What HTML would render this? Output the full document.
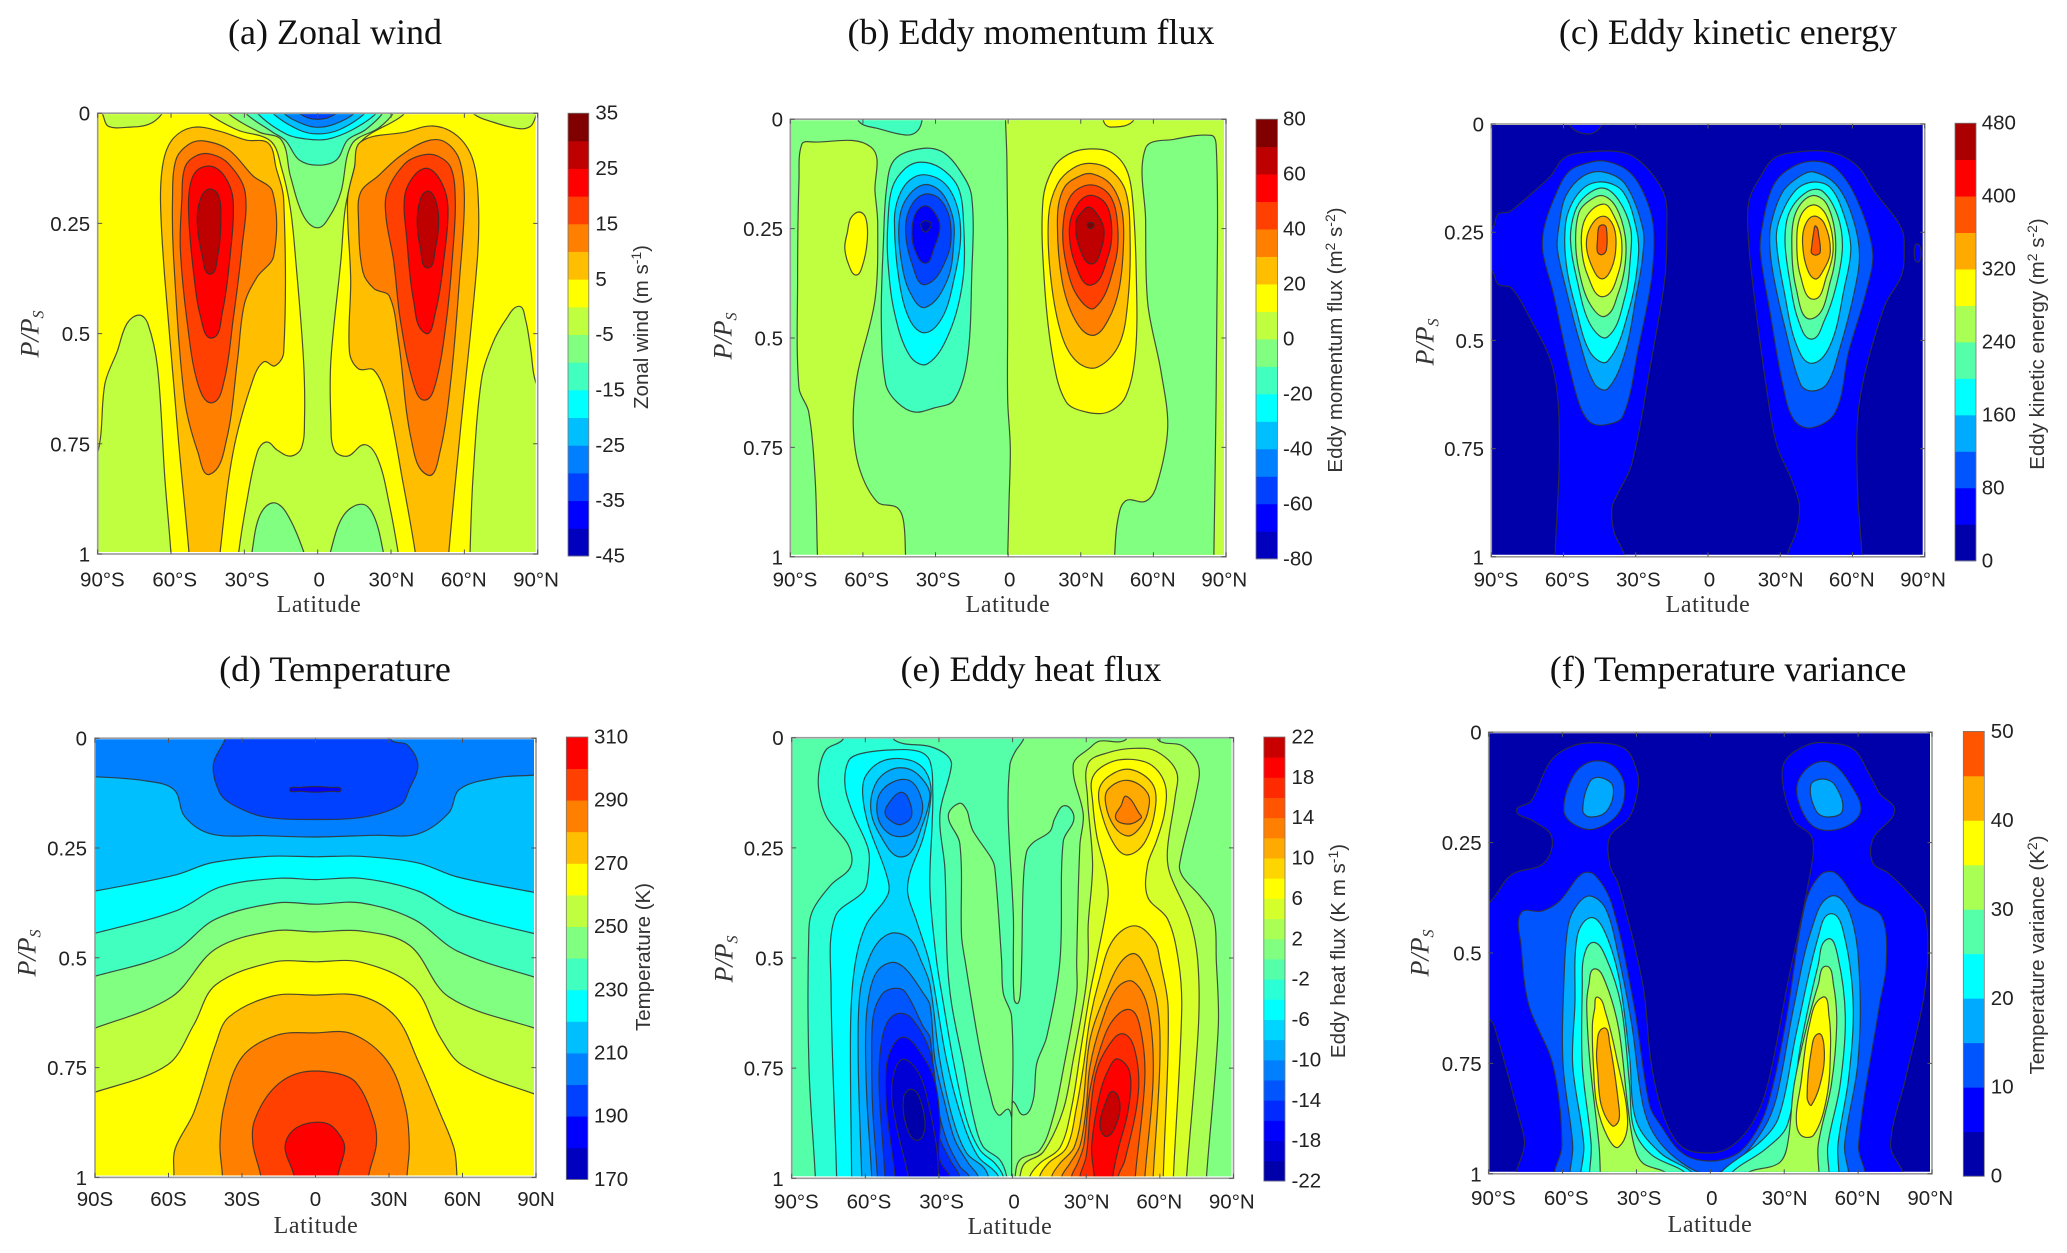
<!DOCTYPE html>
<html lang="en">
<head>
<meta charset="utf-8">
<title>Zonal mean climatology panels</title>
<style>
html,body{margin:0;padding:0;background:#fff;}
svg{display:block;}
.title{font-family:"Liberation Serif",serif;font-size:36px;text-anchor:middle;fill:#111;}
.tick{font-family:"Liberation Sans",sans-serif;font-size:20.5px;fill:#222;}
.xlab{font-family:"Liberation Serif",serif;font-size:24px;text-anchor:middle;fill:#333;letter-spacing:.6px;}
.ylab{font-family:"Liberation Serif",serif;font-size:26px;font-style:italic;text-anchor:middle;fill:#333;}
.cblab{font-family:"Liberation Sans",sans-serif;font-size:20.5px;text-anchor:middle;fill:#333;}
</style>
</head>
<body>
<svg id="figure" xmlns="http://www.w3.org/2000/svg" width="2067" height="1253" viewBox="0 0 2067 1253">
<rect width="2067" height="1253" fill="#fff"/>
<text class="title" x="335" y="44">(a) Zonal wind</text>
<text class="title" x="1031" y="44">(b) Eddy momentum flux</text>
<text class="title" x="1728" y="44">(c) Eddy kinetic energy</text>
<text class="title" x="335" y="681">(d) Temperature</text>
<text class="title" x="1031" y="681">(e) Eddy heat flux</text>
<text class="title" x="1728" y="681">(f) Temperature variance</text>

<text class="xlab" x="319" y="612">Latitude</text>
<text class="xlab" x="1008" y="612">Latitude</text>
<text class="xlab" x="1708" y="612">Latitude</text>
<text class="xlab" x="316" y="1233">Latitude</text>
<text class="xlab" x="1010" y="1234">Latitude</text>
<text class="xlab" x="1710" y="1232">Latitude</text>

<text class="ylab" transform="translate(38.5,334) rotate(-90)">P/P<tspan font-size="16" dy="5">S</tspan></text>
<text class="ylab" transform="translate(731.5,336) rotate(-90)">P/P<tspan font-size="16" dy="5">S</tspan></text>
<text class="ylab" transform="translate(1433.5,342) rotate(-90)">P/P<tspan font-size="16" dy="5">S</tspan></text>
<text class="ylab" transform="translate(35.5,953) rotate(-90)">P/P<tspan font-size="16" dy="5">S</tspan></text>
<text class="ylab" transform="translate(732.5,959) rotate(-90)">P/P<tspan font-size="16" dy="5">S</tspan></text>
<text class="ylab" transform="translate(1428.5,953) rotate(-90)">P/P<tspan font-size="16" dy="5">S</tspan></text>

<text class="cblab" transform="translate(648,327) rotate(-90)">Zonal wind (m s<tspan font-size="14" dy="-7">-1</tspan><tspan dy="7">)</tspan></text>
<text class="cblab" transform="translate(1342,340) rotate(-90)">Eddy momentum flux (m<tspan font-size="14" dy="-7">2</tspan><tspan dy="7"> s</tspan><tspan font-size="14" dy="-7">-2</tspan><tspan dy="7">)</tspan></text>
<text class="cblab" transform="translate(2044,344) rotate(-90)">Eddy kinetic energy (m<tspan font-size="14" dy="-7">2</tspan><tspan dy="7"> s</tspan><tspan font-size="14" dy="-7">-2</tspan><tspan dy="7">)</tspan></text>
<text class="cblab" transform="translate(650,957) rotate(-90)">Temperature (K)</text>
<text class="cblab" transform="translate(1345,951) rotate(-90)">Eddy heat flux (K m s<tspan font-size="14" dy="-7">-1</tspan><tspan dy="7">)</tspan></text>
<text class="cblab" transform="translate(2044,955) rotate(-90)">Temperature variance (K<tspan font-size="14" dy="-7">2</tspan><tspan dy="7">)</tspan></text>
</svg>
<script>
// ---------- shared axis values ----------
const latTicks=[-90,-60,-30,0,30,60,90];
const degLatLabels=['90°S','60°S','30°S','0','30°N','60°N','90°N'];
const plainLatLabels=['90S','60S','30S','0','30N','60N','90N'];
const pressureTicks=[0,0.25,0.5,0.75,1];
const pressureLabels=['0','0.25','0.5','0.75','1'];

// ---------- colour-bar tick values ----------
const zonalWindTicks=[35,25,15,5,-5,-15,-25,-35,-45];
const momentumTicks=[80,60,40,20,0,-20,-40,-60,-80];
const kineticTicks=[480,400,320,240,160,80,0];
const temperatureTicks=[310,290,270,250,230,210,190,170];
const heatFluxTicks=[22,18,14,10,6,2,-2,-6,-10,-14,-18,-22];
const varianceTicks=[50,40,30,20,10,0];

// ---------- palettes, bottom band first ----------
const pal16=['#0000BF','#0000FF','#0040FF','#0080FF','#00BFFF','#00FFFF','#40FFBF','#80FF80','#BFFF40','#FFFF00','#FFBF00','#FF8000','#FF4000','#FF0000','#BF0000','#800000'];
const pal12=['#0000AA','#0000FF','#0055FF','#00AAFF','#00FFFF','#55FFAA','#AAFF55','#FFFF00','#FFAA00','#FF5500','#FF0000','#AA0000'];
const pal14=['#0000BF','#0000FF','#0040FF','#0080FF','#00BFFF','#00FFFF','#40FFBF','#80FF80','#BFFF40','#FFFF00','#FFBF00','#FF8000','#FF4000','#FF0000'];
const pal22=['#0000AA','#0000D5','#0000FF','#002AFF','#0055FF','#0080FF','#00AAFF','#00D5FF','#00FFFF','#2AFFD5','#55FFAA','#80FF80','#AAFF55','#D5FF2A','#FFFF00','#FFD500','#FFAA00','#FF8000','#FF5500','#FF2A00','#FF0000','#C80000'];
const pal10=['#0000AA','#0000FF','#0055FF','#00AAFF','#00FFFF','#55FFAA','#AAFF55','#FFFF00','#FFAA00','#FF5500'];

// ---------- contour regions: lower band value + [latitude, P/Ps] outline ----------
const zonalWindRegions=[
{level:-5,pts:[[-90,.77],[-87,.613],[-82,.54],[-78,.477],[-73,.458],[-69.5,.477],[-65.5,.578],[-62.5,.83],[-60,1],[-60,1.03],[-96,1.03],[-96,.8]]},
{level:-5,pts:[[-88,-.02],[-87.5,.01],[-85.5,.03],[-78,.032],[-69,.025],[-63.5,0],[-63,-.02]]},
{level:-5,pts:[[63.5,-.02],[63.5,0],[71.6,.02],[82.4,.035],[87,.03],[89,.01],[90,-.02]]},
{level:-5,pts:[[62.3,1.03],[62.3,1],[63.5,.83],[67,.604],[71.6,.522],[77,.468],[82.4,.438],[85,.468],[87,.531],[89.5,.615],[96,.66],[96,1.03]]},
{level:-5,pts:[[-46,-.02],[-44.8,0],[-32.8,.038],[-19.3,.063],[-14.8,.124],[-11.2,.215],[-9,.333],[-5.8,.56],[-5.4,.696],[-6.7,.76],[-11.2,.778],[-16.6,.764],[-21,.746],[-24.7,.769],[-29.2,.887],[-32.4,1],[-32.4,1.03],[33.5,1.03],[33,1],[29.3,.887],[24.8,.787],[19.4,.752],[12.2,.778],[6.8,.764],[5.4,.696],[5.4,.56],[9.5,.333],[11.3,.215],[15,.124],[18,.063],[34.7,.005],[36,-.02]]},
{level:-10,pts:[[-37.5,-.02],[-36.7,0],[-23.8,.043],[-14.8,.061],[-11.2,.142],[-5.8,.233],[0,.26],[5,.233],[9.5,.179],[14,.07],[24.8,.034],[31,0],[32,-.02]]},
{level:-10,pts:[[-27,1],[-23.8,.914],[-18.4,.884],[-13,.905],[-5.4,1],[-5,1.03],[-27.5,1.03]]},
{level:-10,pts:[[5,1],[10.4,.914],[18,.887],[23,.914],[27,1],[27.5,1.03],[4.5,1.03]]},
{level:-15,pts:[[-30,-.02],[-29.5,0],[-18.4,.043],[-13,.063],[-7.6,.106],[0,.118],[7.7,.106],[12.2,.061],[19.4,.038],[26.6,0],[27,-.02]]},
{level:-20,pts:[[-25,-.02],[-24.7,0],[-13,.047],[-4,.059],[4,.059],[14,.038],[24,0],[24.5,-.02]]},
{level:-25,pts:[[-19,-.02],[-18.4,0],[-7.6,.038],[0,.047],[8.6,.038],[19.4,0],[20,-.02]]},
{level:-30,pts:[[-14.5,-.02],[-13.9,0],[-5.8,.025],[0,.032],[6.8,.025],[15,0],[15.5,-.02]]},
{level:-35,pts:[[-8,-.02],[-7.6,0],[0,.014],[7.7,0],[8,-.02]]},
{level:5,pts:[[-52.6,1.03],[-52.6,1],[-57,.741],[-62.5,.378],[-64.3,.197],[-63,.106],[-58.9,.056],[-50.8,.032],[-40,.041],[-29.2,.061],[-20.2,.068],[-17,.124],[-13.9,.197],[-13.9,.542],[-17.5,.573],[-22,.564],[-26.5,.605],[-34.6,.769],[-40,1],[-40,1.03]]},
{level:5,pts:[[40,1.03],[40,1],[34.7,.832],[28.4,.651],[23,.583],[16.7,.58],[13,.542],[13.5,.378],[12.2,.197],[15,.124],[17.6,.065],[35.6,.043],[47.3,.029],[57.2,.052],[63.5,.106],[65.7,.197],[65.3,.333],[58,.741],[53.6,1],[53.6,1.03]]},
{level:10,pts:[[-59.4,.197],[-58,.106],[-52.6,.07],[-46.3,.063],[-36.4,.083],[-26.5,.142],[-18.4,.179],[-18,.324],[-24.7,.371],[-30,.433],[-32.8,.56],[-37.3,.741],[-44,.819],[-49,.769],[-54.4,.651],[-58.9,.333]]},
{level:10,pts:[[60,.197],[58,.106],[52,.065],[44.6,.063],[33.8,.097],[24.8,.142],[17.6,.179],[16.7,.242],[18.5,.36],[23,.398],[29.3,.415],[33,.515],[38.3,.741],[45,.821],[50,.769],[54.5,.605],[58,.378]]},
{level:15,pts:[[-55.6,.197],[-54.4,.124],[-49.9,.097],[-43.6,.093],[-36.4,.115],[-29.7,.179],[-31,.306],[-34.6,.469],[-38.2,.605],[-43.2,.657],[-49,.614],[-53.5,.469],[-56.2,.306]]},
{level:15,pts:[[56.3,.197],[54.5,.124],[49,.097],[42.8,.095],[35.6,.115],[28.4,.179],[28,.238],[31,.333],[33.8,.469],[39.2,.614],[43.7,.651],[48.2,.614],[52.7,.469],[55.4,.306]]},
{level:20,pts:[[-52.6,.179],[-49.9,.133],[-43.9,.12],[-38.2,.142],[-34.6,.197],[-36,.333],[-39,.451],[-43.2,.51],[-48,.46],[-50.8,.36],[-52.6,.251]]},
{level:20,pts:[[53.3,.215],[51,.161],[45.5,.126],[40,.138],[35.6,.188],[36.5,.288],[39.2,.424],[44,.499],[48.2,.451],[51.8,.324]]},
{level:25,pts:[[-49.3,.242],[-47.5,.188],[-44,.172],[-40.5,.188],[-39.6,.242],[-40.9,.324],[-44,.365],[-47.2,.324]]},
{level:25,pts:[[40.7,.242],[42.5,.188],[45.5,.177],[48.2,.197],[49.5,.242],[48.2,.306],[45,.351],[42,.306]]}
];

const momentumRegions=[
{level:0,pts:[[-85.2,.057],[-80.6,.052],[-56.6,.064],[-55,.166],[-53.9,.24],[-55,.413],[-62.4,.587],[-64,.697],[-61.5,.797],[-54,.875],[-46,.887],[-43.3,.916],[-42.4,.994],[-42.4,1.03],[-78.5,1.03],[-78.8,.994],[-79.7,.824],[-82.4,.669],[-86.4,.614],[-87,.367],[-86.4,.139]]},
{level:0,pts:[[-1.1,-.03],[-1.1,0],[-.5,.093],[-.2,.276],[-.2,.459],[-.2,.642],[.9,.751],[.4,.87],[-.2,1],[-.2,1.03],[96,1.03],[96,-.03]]},
{level:-10,pts:[[56.8,.066],[68.6,.046],[84,.037],[85.9,.057],[86.5,.276],[85.9,.642],[85,.994],[85,1.03],[44,1.03],[44,.994],[45.3,.916],[48.6,.872],[56.8,.873],[61.3,.838],[65.9,.706],[63.2,.578],[57.7,.422],[56.8,.23]]},
{level:-20,pts:[[-61.5,-.03],[-61.5,.006],[-53.3,.022],[-42.4,.036],[-37.9,.029],[-35.7,.006],[-35.7,-.03]]},
{level:10,pts:[[39.5,-.03],[39.5,.006],[42.2,.018],[51.3,.006],[51.3,-.03]]},
{level:10,pts:[[-66.4,.258],[-65,.226],[-61.5,.212],[-58.8,.226],[-58.2,.276],[-60.2,.335],[-62.8,.356],[-65.7,.335],[-67.5,.294]]},
{level:-20,pts:[[-50.2,.157],[-47,.093],[-36.9,.068],[-27.8,.073],[-20.6,.112],[-15.1,.176],[-15.1,.367],[-16.9,.55],[-22.4,.642],[-30.6,.66],[-38.8,.669],[-46,.646],[-50.6,.605],[-52.4,.459],[-51.5,.276]]},
{level:-30,pts:[[-49.7,.239],[-47.9,.157],[-42.4,.112],[-36,.098],[-27.8,.112],[-20.6,.157],[-18.4,.239],[-18.7,.367],[-24.2,.486],[-33.3,.559],[-40.6,.541],[-47,.441],[-49.7,.321]]},
{level:-40,pts:[[-47,.23],[-45.1,.176],[-40.6,.139],[-34.2,.127],[-26,.148],[-20.9,.203],[-19.7,.276],[-22.4,.367],[-26.9,.45],[-34.2,.488],[-40.6,.459],[-45.1,.367]]},
{level:-50,pts:[[-45.1,.239],[-42.4,.185],[-35.1,.15],[-27.8,.166],[-23,.221],[-22.4,.276],[-25.1,.367],[-34.2,.43],[-40.6,.395],[-44.2,.322]]},
{level:-60,pts:[[-42.4,.249],[-39.7,.194],[-34.2,.171],[-27.8,.185],[-23.8,.239],[-25.1,.313],[-34.2,.378],[-39.7,.331]]},
{level:-70,pts:[[-39.7,.249],[-37.9,.212],[-34.2,.198],[-30.6,.212],[-28.2,.244],[-30.6,.294],[-34.2,.329],[-38.8,.294]]},
{level:-80,pts:[[-36,.239],[-34.2,.232],[-31.8,.239],[-33.3,.256],[-35,.256]]},
{level:10,pts:[[14.4,.185],[18.6,.112],[24.9,.08],[33.1,.068],[42.2,.075],[48.6,.112],[51.3,.176],[53,.367],[52.6,.532],[48.6,.633],[41.3,.669],[32.2,.669],[24,.646],[18.6,.55],[14.9,.367]]},
{level:20,pts:[[16.7,.221],[20.4,.148],[26.8,.112],[34,.101],[42.2,.116],[48.6,.166],[50.4,.276],[49.5,.413],[45.9,.514],[36.8,.567],[28.6,.555],[22.2,.495],[17.7,.367]]},
{level:30,pts:[[20.4,.221],[23.1,.157],[29.5,.13],[34.9,.125],[42.2,.148],[46.8,.203],[47.7,.276],[45.9,.386],[41.3,.459],[34.9,.494],[27.7,.459],[22.2,.367]]},
{level:40,pts:[[22.6,.249],[25.8,.176],[34,.15],[42.2,.176],[45.3,.249],[44,.331],[35.9,.431],[28.6,.404],[24,.331]]},
{level:50,pts:[[25.3,.249],[28.6,.194],[34,.174],[40.4,.194],[42.8,.249],[41.3,.313],[34.4,.379],[27.7,.331]]},
{level:60,pts:[[28,.235],[31.3,.207],[33.7,.201],[36.8,.217],[39.5,.249],[38.6,.294],[34.4,.331],[29.5,.294]]},
{level:70,pts:[[32.6,.241],[34,.236],[35.5,.241],[34,.25]]}
];

const kineticRegions=[
{level:40,pts:[[-96,.26],[-89.4,.24],[-87.2,.208],[-82.6,.203],[-74.4,.166],[-65.3,.12],[-59.9,.079],[-50.8,.065],[-34.4,.067],[-25.3,.102],[-18,.166],[-17.1,.25],[-18,.36],[-23.5,.545],[-31.7,.786],[-38,.86],[-39.9,.887],[-39,.943],[-34.8,.994],[-34.8,1.03],[-63.7,1.03],[-63.5,.994],[-61.7,.73],[-64.4,.564],[-74.4,.444],[-81.7,.379],[-87.2,.37],[-89.4,.342],[-96,.32]]},
{level:40,pts:[[-57.1,-.03],[-57.1,.005],[-49.9,.023],[-44.4,.005],[-44.4,-.03]]},
{level:40,pts:[[17.1,.176],[22,.12],[27.5,.079],[36.6,.065],[51,.065],[62,.097],[69.3,.157],[80.3,.24],[81.5,.296],[80.3,.351],[73,.425],[63,.638],[62,.823],[63.9,.994],[63.9,1.03],[33,1.03],[33,.994],[36.6,.943],[38,.883],[34.8,.823],[28.4,.739],[23.8,.591],[18.4,.36],[16.6,.25]]},
{level:40,pts:[[85.7,.296],[87,.277],[88.5,.3],[87,.319]]},
{level:80,pts:[[-68.6,.296],[-68.1,.24],[-63.5,.166],[-58,.111],[-50.8,.091],[-42.6,.086],[-32.6,.111],[-26.2,.166],[-22.6,.24],[-23.5,.36],[-28.9,.518],[-35.3,.675],[-42.6,.695],[-49,.689],[-53.5,.647],[-59,.527],[-64.4,.388]]},
{level:120,pts:[[-62.6,.287],[-62,.24],[-59,.166],[-51.7,.12],[-43.5,.111],[-34.4,.139],[-27.1,.24],[-27.1,.305],[-29.8,.397],[-34.4,.527],[-41.7,.612],[-47.1,.601],[-53.5,.499],[-59.9,.36]]},
{level:160,pts:[[-59.5,.268],[-58,.203],[-51.7,.148],[-43.5,.134],[-35.3,.157],[-29.8,.24],[-28.9,.305],[-32.6,.425],[-41.7,.548],[-49,.527],[-55.3,.416],[-58.4,.342]]},
{level:200,pts:[[-57.1,.268],[-55.3,.203],[-50.8,.166],[-43.5,.148],[-37.1,.176],[-32.2,.24],[-32.2,.305],[-34.4,.397],[-41.7,.492],[-49,.462],[-54.4,.36]]},
{level:240,pts:[[-55,.268],[-53.5,.203],[-49,.176],[-43.5,.166],[-38,.194],[-34.4,.259],[-34.4,.323],[-37.1,.388],[-42.6,.444],[-49,.416],[-53.5,.342]]},
{level:280,pts:[[-52.6,.277],[-50.8,.217],[-43.5,.185],[-39,.213],[-35.9,.268],[-37.1,.342],[-43.5,.399],[-49.9,.351]]},
{level:320,pts:[[-50.4,.287],[-49,.24],[-43.5,.213],[-39,.24],[-38.4,.296],[-40.8,.342],[-44,.358],[-47.1,.342]]},
{level:360,pts:[[-45.9,.268],[-45.3,.238],[-43.5,.233],[-42.2,.24],[-42.2,.291],[-44,.302],[-45.9,.296]]},
{level:80,pts:[[21.7,.296],[22.4,.24],[26.6,.148],[33,.106],[43,.086],[53,.102],[62,.176],[68.4,.296],[65.7,.388],[58.4,.527],[53,.665],[43,.702],[35.7,.684],[31,.601],[25.7,.434]]},
{level:120,pts:[[25.7,.287],[26.2,.231],[31,.157],[38.4,.12],[43.9,.111],[53,.139],[59.3,.203],[62.9,.296],[61.1,.379],[54.8,.518],[49.3,.601],[43,.617],[38.4,.601],[32,.471],[27.5,.36]]},
{level:160,pts:[[28.4,.268],[30.2,.213],[36.6,.152],[43.9,.134],[51,.148],[56.6,.213],[59.3,.287],[56.6,.379],[51,.508],[43,.553],[36.6,.508],[32,.397]]},
{level:200,pts:[[32,.268],[33.9,.203],[41.1,.157],[47.5,.155],[53.9,.213],[55.8,.287],[53,.379],[48.4,.453],[43,.497],[37.5,.453],[33.9,.36]]},
{level:240,pts:[[34.8,.268],[36.6,.203],[43,.166],[49.3,.185],[53,.268],[51,.36],[43,.45],[36.6,.379]]},
{level:280,pts:[[36.9,.277],[38.4,.213],[43.9,.187],[49.3,.213],[52,.287],[49.3,.351],[43.9,.405],[38.4,.351]]},
{level:320,pts:[[39.3,.277],[40.2,.236],[43.9,.213],[48.4,.231],[50.8,.296],[47.5,.342],[44.4,.358],[41.1,.333]]},
{level:360,pts:[[43,.287],[43.9,.25],[44.8,.236],[46,.259],[46.6,.296],[44.8,.303],[43,.298]]}
];

const temperatureRegions=[
{level:190,pts:[[-35,-.03],[-37.2,.006],[-41.7,.061],[-39,.125],[-33.6,.152],[-21,.179],[0,.185],[20.3,.179],[34.7,.152],[38.3,.116],[41.8,.061],[37.4,.015],[31.1,.005],[30,-.03]]},
{level:180,pts:[[-10.6,.117],[-6,.112],[0,.11],[6,.112],[10.4,.117],[6,.121],[0,.123],[-6,.121]]},
{level:210,pts:[[-96,.09],[-90,.088],[-69.5,.097],[-57.8,.117],[-53.3,.179],[-42.6,.218],[-21,.222],[0,.225],[23.9,.221],[41.8,.218],[54.4,.17],[58.9,.116],[74.2,.09],[89.4,.084],[96,.08],[96,1.03],[-96,1.03]]},
{level:220,pts:[[-96,.35],[-90,.348],[-56.9,.311],[-42.6,.284],[-19.2,.269],[0,.27],[18.5,.269],[41.8,.284],[58,.316],[89.4,.351],[96,.355],[96,1.03],[-96,1.03]]},
{level:230,pts:[[-96,.45],[-90,.444],[-56.9,.393],[-39,.339],[-15.6,.319],[0,.322],[18.5,.319],[41.8,.348],[58,.398],[89.4,.445],[96,.45],[96,1.03],[-96,1.03]]},
{level:240,pts:[[-96,.548],[-90,.542],[-58.7,.489],[-40.8,.412],[-15.6,.375],[0,.378],[18.5,.375],[40,.412],[58,.485],[89.4,.544],[96,.55],[96,1.03],[-96,1.03]]},
{level:250,pts:[[-96,.665],[-90,.66],[-58.7,.589],[-40.8,.48],[-17.4,.439],[0,.441],[18.5,.439],[38.3,.471],[54.4,.589],[89.4,.66],[96,.665],[96,1.03],[-96,1.03]]},
{level:260,pts:[[-96,.81],[-90,.806],[-60.5,.744],[-49.7,.653],[-40.8,.562],[-17.4,.51],[0,.509],[18.5,.51],[40,.566],[50.8,.68],[59.8,.744],[89.4,.81],[96,.815],[96,1.03],[-96,1.03]]},
{level:270,pts:[[-57.8,1.03],[-57.8,.995],[-57.3,.935],[-49.7,.853],[-40.8,.698],[-35.4,.635],[-17.4,.587],[0,.585],[18.5,.587],[32.9,.635],[41.8,.734],[50.8,.853],[56.6,.935],[57.7,.995],[57.7,1.03]]},
{level:280,pts:[[-38,1.03],[-38,.995],[-39,.926],[-37.2,.835],[-30,.726],[-15.6,.676],[0,.671],[14.9,.673],[29.3,.735],[36.5,.835],[38.3,.926],[37.4,.995],[37.4,1.03]]},
{level:290,pts:[[-22.4,1.03],[-22.4,.995],[-25.5,.926],[-25,.872],[-17.4,.799],[-6.6,.762],[7.7,.762],[16.7,.785],[23.9,.872],[24.8,.926],[21.7,.995],[21.7,1.03]]},
{level:300,pts:[[-8.8,1.03],[-8.8,.995],[-12.4,.935],[-10.2,.899],[-4,.878],[5,.878],[10.4,.908],[11.9,.935],[9.2,.995],[9.2,1.03]]}
];

const heatFluxRegions=[
{level:0,pts:[[6.4,-.03],[4.3,.005],[1,.032],[-1.1,.062],[-1.8,.175],[.3,.402],[.3,.505],[.5,.58],[1.6,.603],[3,.588],[3.7,.505],[4.3,.334],[5.7,.259],[8.4,.238],[15.2,.213],[17.2,.183],[21.3,.154],[25,.183],[20.6,.236],[19.3,.505],[13.9,.679],[9.8,.74],[8.4,.822],[4.6,.856],[.3,.826],[-.3,.837],[-.4,.996],[-.4,1.03],[96,1.03],[96,-.03]]},
{level:0,pts:[[-21.7,.149],[-26.2,.178],[-21.5,.24],[-20.8,.448],[-19.4,.505],[-13.3,.709],[-9.2,.807],[-5.8,.856],[-1.8,.843],[-.4,.86],[-.4,.633],[-3.8,.58],[-4.5,.505],[-7.2,.297],[-8.6,.274],[-16,.213],[-17.4,.191],[-18.7,.164]]},
{level:-4,pts:[[-69.2,-.03],[-69.2,.004],[-75.8,.026],[-78.5,.063],[-79,.117],[-75.8,.18],[-66.9,.244],[-66,.293],[-74,.334],[-81.2,.389],[-83,.434],[-83,.742],[-80.4,.996],[-80.4,1.03],[-2.4,1.03],[-2.4,.996],[-5.2,.958],[-12,.928],[-16,.86],[-20.1,.739],[-24.9,.603],[-26.6,.505],[-27.6,.297],[-29.6,.175],[-24.9,.062],[-26.9,.039],[-33.7,.02],[-48,.006],[-48,-.03]]},
{level:-6,pts:[[-66.9,.053],[-68.3,.108],[-65.1,.171],[-58.8,.253],[-58.8,.307],[-60.6,.348],[-72.3,.407],[-74,.561],[-71.7,.996],[-71.7,1.03],[-3.8,1.03],[-3.8,.996],[-7.2,.966],[-13.3,.936],[-18.7,.868],[-24.2,.731],[-28.2,.603],[-31,.505],[-33.7,.343],[-32.8,.198],[-32.5,.126],[-33.7,.053],[-38.2,.031],[-50.7,.028],[-62.4,.037]]},
{level:-8,pts:[[-61.1,.126],[-59.7,.085],[-52.5,.052],[-41.8,.051],[-35.5,.076],[-33.2,.126],[-36.4,.226],[-41.8,.307],[-42.7,.354],[-39.1,.416],[-33.7,.515],[-26.9,.732],[-20.1,.875],[-14,.951],[-7.9,.981],[-5.8,.996],[-5.8,1.03],[-65.6,1.03],[-65.6,.996],[-66,.651],[-64.2,.515],[-59.7,.425],[-50.7,.354],[-51.6,.307],[-58.8,.198]]},
{level:-10,pts:[[-48.4,.443],[-41.8,.457],[-37.3,.506],[-33.7,.56],[-29.6,.732],[-24.2,.868],[-18.7,.943],[-12,.974],[-9.9,.996],[-9.9,1.03],[-61.5,1.03],[-61.5,.996],[-62.9,.732],[-62.2,.58],[-58.8,.505],[-54.3,.461]]},
{level:-12,pts:[[-48.6,.51],[-43.2,.527],[-36.4,.58],[-33.7,.606],[-31.6,.732],[-27.6,.83],[-23.5,.913],[-18,.966],[-14,.996],[-14,1.03],[-57.4,1.03],[-57.4,.996],[-59.5,.807],[-59.8,.656],[-58.1,.573],[-54.7,.527]]},
{level:-14,pts:[[-48.6,.569],[-43.9,.576],[-36.4,.656],[-33.7,.68],[-31,.822],[-26.9,.913],[-21.5,.973],[-17.7,.996],[-17.7,1.03],[-55.1,1.03],[-55.1,.996],[-57,.845],[-57.4,.732],[-56.8,.633],[-53.4,.584]]},
{level:-16,pts:[[-46.6,.626],[-41.1,.637],[-33.7,.712],[-31,.81],[-30.3,.898],[-25.5,.958],[-21.5,.996],[-21.5,1.03],[-52,1.03],[-52,.996],[-54.3,.807],[-54,.716],[-51.3,.648]]},
{level:-18,pts:[[-45.2,.68],[-40.5,.693],[-32.3,.769],[-29.6,.867],[-29.6,.958],[-25.5,.996],[-25.5,1.03],[-47.9,1.03],[-47.9,.996],[-51.3,.845],[-51.6,.754],[-49.3,.705]]},
{level:-20,pts:[[-43.9,.73],[-37.8,.766],[-33.7,.845],[-31,.928],[-30.2,.996],[-30.2,1.03],[-42.5,1.03],[-42.5,.996],[-47.3,.883],[-49.3,.807],[-47.5,.747]]},
{level:-22,pts:[[-41.8,.798],[-44.5,.819],[-43.2,.883],[-38.8,.914],[-35.7,.879],[-38.4,.811]]},
{level:-10,pts:[[-57.6,.171],[-56.1,.108],[-49.8,.073],[-41.8,.072],[-35.5,.103],[-33.7,.135],[-37.3,.207],[-41.8,.262],[-47.2,.269],[-52.5,.235]]},
{level:-12,pts:[[-55.2,.171],[-54,.126],[-47.2,.097],[-40.9,.101],[-36.9,.144],[-37.3,.18],[-40.9,.216],[-47.2,.224],[-52.5,.207]]},
{level:-14,pts:[[-52,.171],[-49.8,.144],[-45.7,.124],[-42.7,.135],[-41.2,.178],[-45.4,.197],[-49,.191]]},
{level:2,pts:[[46,-.03],[59,-.03],[59.5,.006],[69.4,.019],[75.7,.063],[74.8,.126],[68,.289],[69.4,.316],[76.6,.361],[81.9,.407],[83,.506],[83.8,.656],[79,.996],[79,1.03],[1,1.03],[1,.996],[3,.958],[11.1,.936],[16.6,.86],[20.6,.754],[26.1,.58],[26.1,.505],[27.4,.244],[28.8,.175],[24.7,.062],[31.5,.023],[35.3,.008],[46,.005]]},
{level:4,pts:[[49.7,.024],[58.6,.031],[66.7,.076],[66.2,.135],[63.1,.253],[64,.307],[72.1,.411],[75.4,.505],[75.7,.656],[70.9,.996],[70.9,1.03],[3,1.03],[3,.996],[5,.966],[12.5,.94],[20.6,.845],[24.7,.731],[29.5,.58],[30.8,.505],[30.8,.425],[32.6,.289],[30.5,.135],[30.8,.058],[38.9,.034]]},
{level:6,pts:[[47.9,.049],[56.8,.063],[62.2,.108],[61.9,.171],[58.6,.235],[55,.289],[55,.361],[63.1,.411],[67.5,.504],[68.9,.618],[65.5,.996],[65.5,1.03],[7,1.03],[7,.996],[11.1,.966],[19.3,.93],[24,.84],[28,.7],[31.5,.58],[34.4,.5],[38.9,.361],[38,.307],[34.4,.226],[32.6,.144],[32.6,.09],[38.9,.058]]},
{level:8,pts:[[49.7,.427],[57.7,.461],[60,.504],[63.4,.618],[61.4,.996],[61.4,1.03],[11,1.03],[11,.996],[14.5,.966],[22,.93],[26,.84],[29,.74],[31.5,.64],[35.3,.55],[40.7,.461]]},
{level:8,pts:[[47.9,.072],[56.8,.103],[58.3,.153],[54.1,.235],[47,.266],[41.6,.244],[36.2,.171],[35.3,.117],[39.8,.085]]},
{level:10,pts:[[48.8,.49],[52.6,.505],[58.7,.595],[60,.732],[57.3,.996],[57.3,1.03],[15.9,1.03],[15.9,.996],[19.3,.966],[25,.93],[28.5,.84],[31.5,.686],[38,.579],[43.4,.515]]},
{level:10,pts:[[47,.097],[55,.126],[55,.171],[51.5,.207],[47,.223],[41.6,.203],[38,.153],[38.9,.117]]},
{level:12,pts:[[49.2,.554],[55.3,.618],[57.3,.769],[53.9,.996],[53.9,1.03],[20,1.03],[20,.996],[23.4,.966],[27.5,.925],[30,.84],[31.5,.747],[36,.65],[42.4,.569]]},
{level:12,pts:[[46.4,.133],[51.5,.171],[52.4,.182],[47,.196],[42,.183],[44.3,.153]]},
{level:14,pts:[[47.8,.617],[51.9,.656],[53.9,.769],[50,.996],[50,1.03],[24,1.03],[24,.996],[26.5,.966],[29,.925],[31.5,.8],[36,.7],[41,.64]]},
{level:16,pts:[[45,.672],[49.8,.709],[51.2,.807],[45.8,.958],[43,.996],[43,1.03],[27.4,1.03],[27.4,.996],[30,.95],[31.5,.86],[34,.76],[39,.7]]},
{level:18,pts:[[43,.729],[47.8,.761],[47.1,.845],[43,.935],[41,.989],[40.5,1.03],[33,1.03],[33.2,.996],[32.2,.928],[35.6,.807],[39.7,.746]]},
{level:20,pts:[[41,.803],[43.7,.83],[42.4,.875],[38.3,.905],[35.6,.879],[38.3,.822]]}
];

const varianceRegions=[
{level:5,pts:[[-64.8,.065],[-55.9,.031],[-45.2,.024],[-34.5,.038],[-30.1,.083],[-29.2,.12],[-32.8,.192],[-40.8,.237],[-40.8,.301],[-37.2,.346],[-27.4,.572],[-23.9,.754],[-18.5,.876],[-11.4,.939],[-.7,.953],[8.2,.939],[17.1,.885],[23.3,.798],[31.3,.572],[41.1,.301],[41.1,.237],[34,.201],[29.5,.12],[30.4,.065],[39.3,.029],[47.3,.024],[58,.038],[64.3,.092],[68.7,.138],[74.9,.178],[66,.242],[66,.296],[72.3,.319],[82,.373],[87.4,.414],[87.4,.572],[79.4,.781],[73.2,.935],[78.5,1],[78.5,1.03],[-79.4,1.03],[-79,1],[-75.5,.935],[-77.3,.88],[-87.9,.663],[-90,.649],[-96,.63],[-96,.39],[-90,.387],[-80.8,.323],[-67.5,.296],[-64.4,.237],[-71.9,.201],[-78.7,.178],[-72.8,.156]]},
{level:10,pts:[[-59.5,.178],[-55.9,.101],[-48.8,.067],[-39.9,.074],[-34.9,.12],[-37.2,.183],[-47,.219],[-55,.21]]},
{level:15,pts:[[-51.8,.178],[-48.8,.111],[-44.3,.103],[-39.5,.124],[-42,.178],[-48.8,.192]]},
{level:10,pts:[[35.2,.12],[41.1,.074],[49.1,.07],[57.1,.12],[61.1,.178],[54.5,.215],[43.8,.219],[37.6,.183]]},
{level:15,pts:[[40.8,.12],[45.6,.106],[50.6,.12],[53.6,.178],[47.3,.192],[42.9,.178]]},
{level:10,pts:[[-76.9,.409],[-68.4,.405],[-61.2,.382],[-52.3,.321],[-47,.323],[-39.9,.391],[-31,.618],[-24.7,.844],[-20.3,.889],[-11.4,.953],[-.7,.971],[10,.957],[17.1,.917],[23.3,.844],[30.4,.663],[38.4,.391],[44.7,.323],[50.9,.319],[59.8,.382],[69.6,.418],[71.4,.527],[68.7,.618],[60.2,.935],[63,1],[63,1.03],[-63,1.03],[-63.5,1],[-60.3,.935],[-63.9,.754],[-73.7,.618],[-76.9,.482]]},
{level:15,pts:[[-59.5,.572],[-57.7,.437],[-54.1,.391],[-48.8,.371],[-42.5,.4],[-37.2,.509],[-31.9,.663],[-27.4,.844],[-22.1,.917],[-11.4,.976],[-.7,1],[10,.976],[21.5,.899],[26.9,.826],[34,.618],[41.1,.446],[49.1,.371],[57.1,.418],[60.7,.572],[59.8,.754],[54.5,.935],[56.2,1],[56.2,1.03],[-57.5,1.03],[-57.1,1],[-55.9,.935],[-59.8,.754]]},
{level:20,pts:[[-55,.618],[-54.1,.464],[-48.8,.42],[-43.4,.446],[-37.2,.554],[-32.8,.736],[-30.1,.88],[-20.3,.953],[-6.9,1],[-7,1.03],[-53.5,1.03],[-52.7,1],[-51.4,.935],[-55.9,.754]]},
{level:20,pts:[[3.7,1],[20.6,.926],[27.8,.871],[34.9,.681],[43.8,.464],[49.1,.411],[54.5,.464],[58,.618],[56.2,.781],[51.8,.935],[52.2,1],[52.2,1.03],[3.7,1.03]]},
{level:25,pts:[[-52,.572],[-51.4,.509],[-47.5,.476],[-42.5,.509],[-36.3,.618],[-32.8,.799],[-31,.899],[-23.9,.957],[-9.6,1],[-9.6,1.03],[-49.5,1.03],[-49.1,1],[-48.4,.935],[-52,.754]]},
{level:25,pts:[[8.2,1],[22.4,.944],[31.3,.889],[36.7,.708],[43.8,.527],[47.7,.468],[51.8,.509],[54.8,.645],[52.7,.799],[47.7,.935],[48.2,1],[48.2,1.03],[8.2,1.03]]},
{level:30,pts:[[-50.2,.618],[-49.3,.572],[-47,.536],[-42.5,.568],[-37.2,.672],[-33.6,.844],[-31,.935],[-27.4,.976],[-17.6,1],[-17.6,1.03],[-44.7,1.03],[-44.7,1],[-45.2,.935],[-48.8,.754]]},
{level:30,pts:[[14.4,1],[27.8,.976],[31.3,.935],[34,.799],[39.3,.663],[43.8,.572],[47,.53],[50,.572],[51.3,.663],[49.1,.799],[43.8,.935],[44.1,1],[44.1,1.03],[14.4,1.03]]},
{level:35,pts:[[-47.9,.663],[-47,.627],[-45.7,.6],[-42.5,.636],[-38.1,.736],[-33.6,.88],[-37.2,.939],[-41.7,.917],[-46.1,.844],[-47.5,.754]]},
{level:35,pts:[[34.9,.871],[36.7,.799],[40.2,.663],[45.6,.6],[48.2,.645],[48.8,.717],[47.3,.826],[42,.912],[36.7,.912]]},
{level:40,pts:[[-46.1,.717],[-43.4,.67],[-40.8,.708],[-37.2,.844],[-37.2,.88],[-39.9,.891],[-44.3,.844],[-45.7,.772]]},
{level:40,pts:[[39.3,.826],[41.1,.717],[43.8,.683],[46.1,.708],[45.6,.772],[41.1,.844]]}
];

// ---------- panel layout ----------
const panels=[
{key:'a',plot:[97.7,113.2,537.7,554],cb:[568,113.2,588.8,556],min:-45,step:5,palette:pal16,base:0,regions:zonalWindRegions,cbTicks:zonalWindTicks,xLabels:degLatLabels,xLabelY:586.5,yLabelX:90.2,cbLabelX:595.4,spread:true},
{key:'b',plot:[790.3,119.2,1226,556.8],cb:[1256,119.2,1277.5,558.8],min:-80,step:10,palette:pal16,base:-10,regions:momentumRegions,cbTicks:momentumTicks,xLabels:degLatLabels,xLabelY:586.5,yLabelX:783,cbLabelX:1283,spread:true},
{key:'c',plot:[1491.3,124,1924.7,556.8],cb:[1955,123.2,1976,560.8],min:0,step:40,palette:pal12,base:0,regions:kineticRegions,cbTicks:kineticTicks,xLabels:degLatLabels,xLabelY:586.5,yLabelX:1484,cbLabelX:1981.7,spread:true},
{key:'d',plot:[95,738.2,536,1177.4],cb:[566.3,737,587.9,1179.4],min:170,step:10,palette:pal14,base:200,regions:temperatureRegions,cbTicks:temperatureTicks,xLabels:plainLatLabels,xLabelY:1206,yLabelX:87,cbLabelX:594,spread:false},
{key:'e',plot:[791.7,737.7,1233.5,1178.3],cb:[1263.8,737,1285,1181],min:-22,step:2,palette:pal22,base:-2,regions:heatFluxRegions,cbTicks:heatFluxTicks,xLabels:degLatLabels,xLabelY:1208.5,yLabelX:783.7,cbLabelX:1291.5,spread:true},
{key:'f',plot:[1488.7,732.2,1932,1173.8],cb:[1963.3,731.4,1984.3,1176.2],min:0,step:5,palette:pal10,base:0,regions:varianceRegions,cbTicks:varianceTicks,xLabels:degLatLabels,xLabelY:1205,yLabelX:1481.7,cbLabelX:1990.8,spread:true}
];

const SVGNS='http://www.w3.org/2000/svg';
const fig=document.getElementById('figure');
function mk(tag,attrs,parent){
  const el=document.createElementNS(SVGNS,tag);
  for(const k in attrs){el.setAttribute(k,attrs[k]);}
  parent.appendChild(el);
  return el;
}
function xScale(p,lat){return p.plot[0]+(lat+90)/180*(p.plot[2]-p.plot[0]);}
function yScale(p,v){return p.plot[1]+v*(p.plot[3]-p.plot[1]);}
function bandColor(p,level){return p.palette[Math.round((level-p.min)/p.step)];}
function cbScale(p,v){
  const vmax=p.min+p.step*p.palette.length;
  return p.cb[3]-(v-p.min)/(vmax-p.min)*(p.cb[3]-p.cb[1]);
}
// closed smooth outline through the region's data points
function outline(p,pts){
  const q=pts.map(function(d){return [xScale(p,d[0]),yScale(p,d[1])];});
  const n=q.length;
  let s='M'+q[0][0].toFixed(1)+' '+q[0][1].toFixed(1);
  function tan(i){
    const a=q[(i-1+n)%n],b=q[(i+1)%n];
    const dx=b[0]-a[0],dy=b[1]-a[1],l=Math.hypot(dx,dy)||1;
    return [dx/l,dy/l];
  }
  for(let i=0;i<n;i++){
    const a=q[i],b=q[(i+1)%n],ta=tan(i),tb=tan((i+1)%n);
    const len=Math.hypot(b[0]-a[0],b[1]-a[1])/3;
    s+='C'+(a[0]+ta[0]*len).toFixed(1)+' '+(a[1]+ta[1]*len).toFixed(1)+' '+(b[0]-tb[0]*len).toFixed(1)+' '+(b[1]-tb[1]*len).toFixed(1)+' '+b[0].toFixed(1)+' '+b[1].toFixed(1);
  }
  return s+'Z';
}

const defs=mk('defs',{},fig);
panels.forEach(function(p){
  const x0=p.plot[0],y0=p.plot[1],x1=p.plot[2],y1=p.plot[3];
  const group=mk('g',{},fig);
  
  

  const clip=mk('clipPath',{id:'clip-'+p.key},defs);
  mk('rect',{x:x0,y:y0+1,width:x1-x0-2,height:y1-y0-3},clip);

  const plotBg=mk('rect',{x:x0,y:y0,width:x1-x0,height:y1-y0,fill:'#fff'},group);
  
  

  const field=mk('g',{'clip-path':'url(#clip-'+p.key+')'},group);
  
  
  const baseRect=mk('rect',{x:x0,y:y0,width:x1-x0,height:y1-y0,fill:bandColor(p,p.base)},field);
  
  
  p.regions.forEach(function(r){
    const path=mk('path',{d:outline(p,r.pts),fill:bandColor(p,r.level),stroke:'#303030','stroke-width':1.2,'stroke-opacity':.85,'stroke-linejoin':'round'},field);
    
    
  });

  const frame=mk('rect',{x:x0,y:y0,width:x1-x0,height:y1-y0,fill:'none',stroke:'#9a9a9a','stroke-width':1.6},group);
  
  

  latTicks.forEach(function(lat,i){
    const x=xScale(p,lat);
    const t=mk('path',{d:'M'+x+' '+y1+'v-4.5M'+x+' '+y0+'v4.5',stroke:'#555','stroke-width':1,fill:'none'},group);
    
    
    const dx=p.spread?1.5-lat/90*3.2:0;
    const lab=mk('text',{x:x+dx,y:p.xLabelY,'class':'tick','text-anchor':'middle'},group);
    lab.textContent=p.xLabels[i];
    
    
  });
  pressureTicks.forEach(function(v,i){
    const y=yScale(p,v);
    const t=mk('path',{d:'M'+x0+' '+y+'h4.5M'+x1+' '+y+'h-4.5',stroke:'#555','stroke-width':1,fill:'none'},group);
    
    
    const lab=mk('text',{x:p.yLabelX,y:y+7.5,'class':'tick','text-anchor':'end'},group);
    lab.textContent=pressureLabels[i];
    
    
  });

  const bar=mk('g',{},group);
  
  
  p.palette.forEach(function(c,i){
    const vLow=p.min+p.step*i,vHigh=vLow+p.step;
    const yTop=cbScale(p,vHigh),yBot=cbScale(p,vLow);
    const seg=mk('rect',{x:p.cb[0],y:yTop,width:p.cb[2]-p.cb[0],height:yBot-yTop+.4,fill:c},bar);
    
    
  });
  const cbFrame=mk('rect',{x:p.cb[0],y:p.cb[1],width:p.cb[2]-p.cb[0],height:p.cb[3]-p.cb[1],fill:'none',stroke:'#777','stroke-width':.8},bar);
  
  
  p.cbTicks.forEach(function(v){
    const y=cbScale(p,v);
    const lab=mk('text',{x:p.cbLabelX,y:y+6.5,'class':'tick'},bar);
    lab.textContent=String(v);
    
    
  });
});
</script>
</body>
</html>
